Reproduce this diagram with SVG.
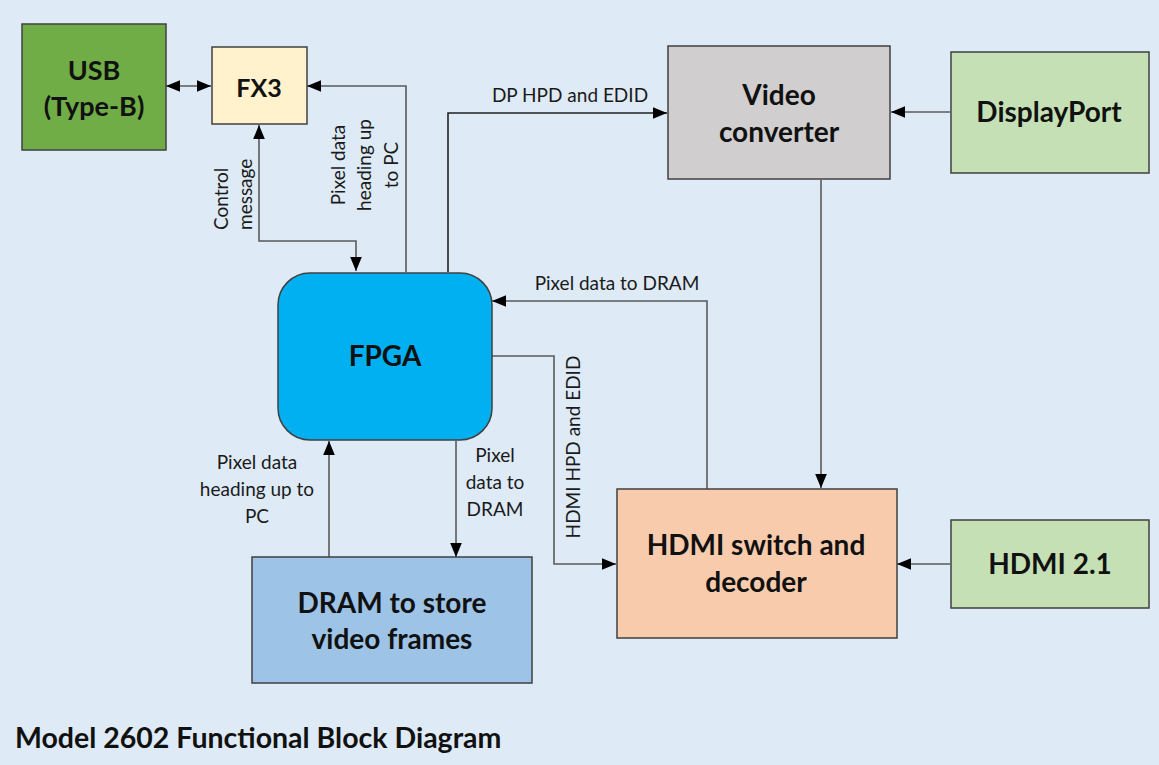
<svg xmlns="http://www.w3.org/2000/svg" width="1159" height="765" viewBox="0 0 1159 765">
<defs>
<marker id="arr" markerUnits="userSpaceOnUse" markerWidth="14" markerHeight="12" refX="12" refY="5" orient="auto-start-reverse" viewBox="0 0 12 10">
<path d="M0,0 L12,5 L0,10 z" fill="#000"/>
</marker>
<style>
.box{stroke:#404040;stroke-width:1.5}
.nt{font-family:Lato,"Liberation Sans",sans-serif;font-weight:bold;fill:#111;text-anchor:middle}
.lb{font-family:Lato,"Liberation Sans",sans-serif;font-size:19px;fill:#1a1a1a}
.c{fill:none;stroke:#5a5a5a;stroke-width:1.6;marker-end:url(#arr)}
</style>
</defs>
<rect x="0" y="0" width="1159" height="765" fill="#DEEAF6"/>
<g id="connectors">
<path class="c" d="M166,86 H211" marker-start="url(#arr)"/>
<path class="c" d="M259,125 V241 H356 V271" marker-start="url(#arr)"/>
<path class="c" d="M406,272 V86 H307"/>
<path class="c" d="M448,272 V113 H667" style="stroke:#222"/>
<path class="c" d="M950,112 H891"/>
<path class="c" d="M821,180 V488"/>
<path class="c" d="M707,489 V301 H492"/>
<path class="c" d="M491,356 H554 V564 H616"/>
<path class="c" d="M950,564 H897"/>
<path class="c" d="M456,441 V557"/>
<path class="c" d="M329,557 V441"/>
<text class="lb" x="570" y="102" text-anchor="middle">DP HPD and EDID</text>
<text class="lb" x="617" y="290" text-anchor="middle">Pixel data to DRAM</text>
<text class="lb" transform="translate(580,447) rotate(-90)" text-anchor="middle">HDMI HPD and EDID</text>
<text class="lb" transform="translate(228,230) rotate(-90)">Control</text>
<text class="lb" transform="translate(252,230) rotate(-90)">message</text>
<text class="lb" transform="translate(345,165) rotate(-90)" text-anchor="middle">Pixel data</text>
<text class="lb" transform="translate(371,165) rotate(-90)" text-anchor="middle">heading up</text>
<text class="lb" transform="translate(398,165) rotate(-90)" text-anchor="middle">to PC</text>
<text class="lb" x="495" text-anchor="middle"><tspan x="495" y="462">Pixel</tspan><tspan x="495" y="489">data to</tspan><tspan x="495" y="516">DRAM</tspan></text>
<text class="lb" x="257" text-anchor="middle"><tspan x="257" y="469">Pixel data</tspan><tspan x="257" y="496">heading up to</tspan><tspan x="257" y="523">PC</tspan></text>
</g>
<g id="usb">
<rect class="box" x="22" y="24" width="144" height="126" fill="#70AD47"/>
<text class="nt" font-size="27"><tspan x="94" y="80">USB</tspan><tspan x="94" y="116">(Type-B)</tspan></text>
</g>
<g id="fx3">
<rect class="box" x="212" y="47" width="95" height="77" fill="#FFF2CC"/>
<text class="nt" font-size="25" x="259" y="97">FX3</text>
</g>
<g id="video-converter">
<rect class="box" x="668" y="46" width="222" height="133" fill="#D0CECE"/>
<text class="nt" font-size="28"><tspan x="779" y="105">Video</tspan><tspan x="779" y="142">converter</tspan></text>
</g>
<g id="displayport">
<rect class="box" x="951" y="52" width="198" height="121" fill="#C5E0B4"/>
<text class="nt" font-size="28" x="1049" y="122">DisplayPort</text>
</g>
<g id="fpga">
<rect class="box" x="278" y="273" width="214" height="167" rx="32" fill="#00B0F0"/>
<text class="nt" font-size="28" x="385" y="366">FPGA</text>
</g>
<g id="hdmi-switch">
<rect class="box" x="617" y="489" width="280" height="149" fill="#F8CBAD"/>
<text class="nt" font-size="28"><tspan x="756" y="555">HDMI switch and</tspan><tspan x="756" y="592">decoder</tspan></text>
</g>
<g id="hdmi21">
<rect class="box" x="951" y="520" width="198" height="88" fill="#C5E0B4"/>
<text class="nt" font-size="28" x="1050" y="574">HDMI 2.1</text>
</g>
<g id="dram">
<rect class="box" x="252" y="557" width="280" height="126" fill="#9DC3E6"/>
<text class="nt" font-size="28"><tspan x="392" y="613">DRAM to store</tspan><tspan x="392" y="649">video frames</tspan></text>
</g>
<text id="title" class="nt" font-size="28.5" x="15" y="748" style="text-anchor:start">Model 2602 Functional Block Diagram</text>
</svg>
